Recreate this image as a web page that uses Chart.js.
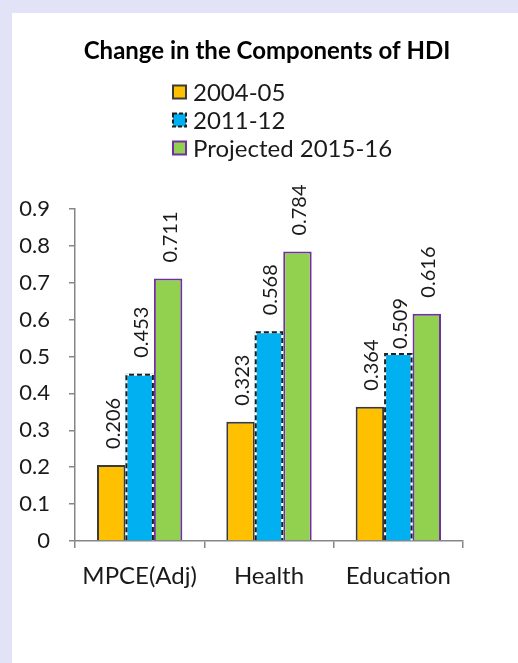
<!DOCTYPE html>
<html>
<head>
<meta charset="utf-8">
<script src="https://cdn.jsdelivr.net/npm/chart.js@4.4.0/dist/chart.umd.min.js"></script>
<style>
  html, body { margin: 0; padding: 0; background: #e3e3f8; }
  #wrap { position: absolute; left: 12px; top: 13px; width: 506px; height: 650px; background: #fff; }
</style>
</head>
<body>
<div id="wrap"><canvas id="hdiChart" width="506" height="650"></canvas></div>
<script>
const categories = ["MPCE(Adj)", "Health", "Education"];
const seriesNames = ["2004-05", "2011-12", "Projected 2015-16"];
const values0405 = [0.206, 0.323, 0.364];
const values1112 = [0.453, 0.568, 0.509];
const values1516 = [0.711, 0.784, 0.616];
const yTicks = [0, 0.1, 0.2, 0.3, 0.4, 0.5, 0.6, 0.7, 0.8, 0.9];

const FONT = "Lato, 'Open Sans', sans-serif";
const axisGray = "#868686";

// blue series has a dashed outline, drawn by hand over the bars
const dashedOutline = {
    id: "dashedOutline",
    afterDatasetsDraw(chart) {
        const ctx = chart.ctx;
        const meta = chart.getDatasetMeta(1);
        meta.data.forEach(bar => {
            const p = bar.getProps(["x", "y", "base", "width"], true);
            const l = p.x - p.width / 2 + 1, r = p.x + p.width / 2 - 1;
            const t = p.y + 1;
            ctx.save();
            ctx.lineWidth = 2;
            ctx.beginPath();
            ctx.moveTo(l, p.base);
            ctx.lineTo(l, t);
            ctx.lineTo(r, t);
            ctx.lineTo(r, p.base);
            ctx.strokeStyle = "#ffffff";
            ctx.stroke();
            ctx.setLineDash([5, 3]);
            ctx.strokeStyle = "#1f1f1f";
            ctx.stroke();
            ctx.restore();
        });
    }
};

// rotated value labels above the bars (the 0.509 one sits lower in the original)
const valueLabels = {
    id: "valueLabels",
    afterDatasetsDraw(chart) {
        const ctx = chart.ctx;
        chart.data.datasets.forEach((ds, i) => {
            chart.getDatasetMeta(i).data.forEach((bar, j) => {
                const gap = (i === 1 && j === 2) ? 4 : 16;
                ctx.save();
                ctx.translate(bar.x + 2, bar.y - gap);
                ctx.rotate(-Math.PI / 2);
                ctx.font = "20px " + FONT;
                ctx.fillStyle = "#1a1a1a";
                ctx.textAlign = "left";
                ctx.textBaseline = "middle";
                ctx.fillText(ds.data[j].toFixed(3), 0, 0);
                ctx.restore();
            });
        });
    }
};

// vertical legend under the title
const stackedLegend = {
    id: "stackedLegend",
    afterDraw(chart) {
        const ctx = chart.ctx;
        const x0 = 161, y0 = 79, step = 28, box = 13;
        chart.data.datasets.forEach((ds, i) => {
            const cy = y0 + i * step;
            ctx.save();
            ctx.fillStyle = ds.backgroundColor;
            ctx.fillRect(x0, cy - box / 2, box, box);
            ctx.lineWidth = 2;
            if (i === 1) ctx.setLineDash([4, 2]);
            ctx.strokeStyle = i === 1 ? "#1f1f1f" : ds.borderColor;
            ctx.strokeRect(x0, cy - box / 2, box, box);
            ctx.setLineDash([]);
            ctx.font = "24px " + FONT;
            ctx.fillStyle = "#1a1a1a";
            ctx.textAlign = "left";
            ctx.textBaseline = "middle";
            ctx.fillText(ds.label, x0 + 20, cy + 1);
            ctx.restore();
        });
    }
};

const ctx = document.getElementById("hdiChart");

const data = {
    labels: categories,
    datasets: [{
        label: seriesNames[0],
        data: values0405,
        backgroundColor: "#ffc000",
        borderColor: "#3a3a3a",
        borderWidth: 2
    }, {
        label: seriesNames[1],
        data: values1112,
        backgroundColor: "#00b0f0",
        borderColor: "#1f1f1f",
        borderWidth: 0
    }, {
        label: seriesNames[2],
        data: values1516,
        backgroundColor: "#92d050",
        borderColor: "#7030a0",
        borderWidth: 2
    }]
};

const config = {
    type: "bar",
    data: data,
    options: {
        responsive: false,
        animation: false,
        layout: { padding: { left: 4, right: 0, top: 0, bottom: 0 } },
        datasets: {
            bar: { categoryPercentage: 0.66, barPercentage: 1 }
        },
        plugins: {
            legend: { display: false },
            tooltip: { enabled: false },
            title: {
                display: true,
                text: "Change in the Components of HDI",
                color: "#000",
                font: { family: FONT, size: 24, weight: "bold" },
                padding: { top: 24, bottom: 143 }
            }
        },
        scales: {
            y: {
                min: 0,
                max: 0.9,
                afterFit: s => { s.width = 59; },
                afterBuildTicks: s => { s.ticks = yTicks.map(v => ({ value: v })); },
                border: { color: axisGray, width: 1.5 },
                grid: { drawOnChartArea: false, color: axisGray, lineWidth: 1.5, tickLength: 6 },
                ticks: {
                    padding: 19,
                    color: "#1a1a1a",
                    font: { family: FONT, size: 22 },
                    callback: v => String(v)
                }
            },
            // empty right-hand axis, only to keep space on the right
            spacer: {
                type: "linear",
                position: "right",
                afterFit: s => { s.width = 55; },
                ticks: { display: false },
                grid: { display: false },
                border: { display: false }
            },
            x: {
                afterFit: s => { s.height = 122; },
                border: { color: axisGray, width: 1.5 },
                grid: { drawOnChartArea: false, color: axisGray, lineWidth: 1.5, tickLength: 7 },
                ticks: {
                    padding: 14,
                    color: "#1a1a1a",
                    font: { family: FONT, size: 24 }
                }
            }
        }
    },
    plugins: [dashedOutline, valueLabels, stackedLegend]
};

let hdiChart = new Chart(ctx, config);
</script>
</body>
</html>
